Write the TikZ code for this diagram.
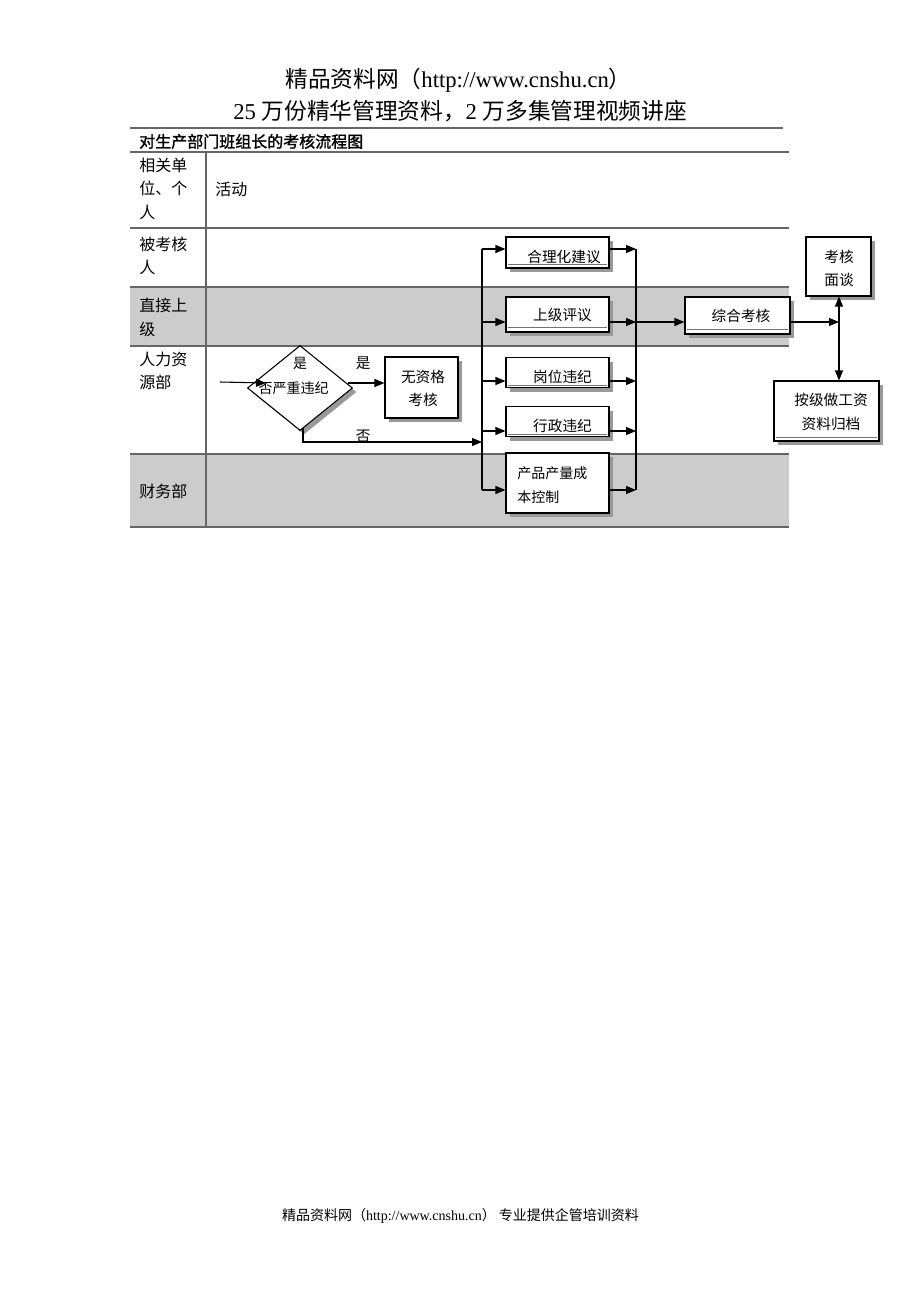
\documentclass[tikz,border=0pt]{standalone}
\usepackage{fontspec}
\setmainfont{Liberation Serif}
\newfontfamily\cjk{Noto Sans CJK SC}
\newfontfamily\cjkb[FakeBold=1.5]{Noto Sans CJK SC}
\usetikzlibrary{arrows.meta,shadows,shapes.geometric}
\definecolor{lanegray}{HTML}{CCCCCC}
\definecolor{rulegray}{HTML}{666666}
\begin{document}
\begin{tikzpicture}[x=0.75pt,y=-0.75pt,
  tline/.style={draw=rulegray,line width=1pt},
  lab/.style={anchor=west,inner sep=0pt,align=left,font=\cjk\fontsize{12}{17.6}\selectfont},
  sbox/.style={draw=black,line width=0.8pt,fill=white,inner sep=0pt,
     drop shadow={shadow xshift=3pt,shadow yshift=-3pt,fill=black!40,opacity=1}},
  txt/.style={inner sep=0pt,align=center,font=\cjk\fontsize{11}{17.5}\selectfont},
  arr/.style={draw=black,line width=0.8pt,-{Triangle[length=7.5pt,width=6pt]}},
  darr/.style={draw=black,line width=0.8pt,{Triangle[length=7.5pt,width=6pt]}-{Triangle[length=7.5pt,width=6pt]}},
  ln/.style={draw=black,line width=0.8pt},
  uline/.style={draw=black!55,line width=0.6pt}
]
\useasboundingbox (0,0) rectangle (920,1302);
\fill[white] (0,0) rectangle (920,1302);

% header
\node[inner sep=0pt,font=\fontsize{17}{20}\selectfont] (h1) at (458.5,80)
  {\cjk 精品资料网（\rmfamily http://www.cnshu.cn\cjk ）};
\node[inner sep=0pt,font=\fontsize{17}{20}\selectfont] (h2) at (460,111)
  {{\rmfamily 25 }\cjk 万份精华管理资料，{\rmfamily 2 }万多集管理视频讲座};
\draw[draw=rulegray,line width=1.5pt] (130,128) -- (783,128);
\node[anchor=west,inner sep=0pt,font=\cjkb\fontsize{12}{14}\selectfont] (title) at (139,141.5) {对生产部门班组长的考核流程图};

% lanes
\fill[lanegray] (130,287) rectangle (789,346);
\fill[lanegray] (130,454) rectangle (789,527);
\foreach \yy in {152,228,287,346,454,527} \draw[tline] (130,\yy) -- (789,\yy);
\draw[tline] (206,152) -- (206,527);

\node[lab] (r1) at (139,188.5) {相关单\\位、个\\人};
\node[lab] (act) at (215,189) {活动};
\node[lab] (r2) at (139,256) {被考核\\人};
\node[lab] (r3) at (139,317.5) {直接上\\级};
\node[lab] (r4) at (139,371) {人力资\\源部};
\node[lab] (r5) at (139,491) {财务部};

% decision
\node[sbox,diamond,minimum width=78.75pt,minimum height=63.75pt] (dm) at (300,388) {};
\node[txt,font=\cjk\fontsize{10.5}{14}\selectfont] (dq1) at (300,363.5) {是};
\node[txt,font=\cjk\fontsize{10.5}{14}\selectfont] (dq2) at (293.5,388.5) {否严重违纪};

\node[sbox,minimum width=54.75pt,minimum height=45.75pt] (wz) at (421.5,387.5) {};
\node[txt] (wzt) at (423,388.5) {无资格\\考核};

% five boxes
\node[sbox,minimum width=77.25pt,minimum height=23.25pt] (hl) at (557.5,252.5) {};
\node[sbox,minimum width=77.25pt,minimum height=26.25pt] (sj) at (557.5,314.5) {};
\node[sbox,minimum width=77.25pt,minimum height=22.5pt] (gw) at (557.5,372.7) {};
\node[sbox,minimum width=77.25pt,minimum height=22.5pt] (xz) at (557.5,421.7) {};
\node[sbox,minimum width=77.25pt,minimum height=45pt] (cp) at (557.5,483) {};
\node[txt] (hlt) at (564,256.5) {合理化建议};
\node[txt] (sjt) at (562.5,315) {上级评议};
\node[txt] (gwt) at (562.5,376.5) {岗位违纪};
\node[txt] (xzt) at (562.5,426) {行政违纪};
\node[txt,anchor=west,align=left,font=\cjk\fontsize{10.5}{18}\selectfont] (cpt) at (517,485) {产品产量成\\本控制};

\node[sbox,minimum width=78.75pt,minimum height=27.75pt] (zh) at (737.5,315.5) {};
\node[txt] (zht) at (741,315.5) {综合考核};

\node[sbox,minimum width=48.75pt,minimum height=44.25pt] (mt) at (838.5,266.5) {};
\node[txt,font=\cjk\fontsize{11}{17}\selectfont] (mtt) at (839,268.7) {考核\\面谈};

\node[sbox,minimum width=78.75pt,minimum height=45pt] (gd) at (826.5,411) {};
\node[txt,font=\cjk\fontsize{11}{18}\selectfont] (gdt) at (831,412) {按级做工资\\资料归档};

% underlines inside boxes
\draw[uline] ([xshift=2.25pt,yshift=3pt]hl.south west) -- ([xshift=-2.25pt,yshift=3pt]hl.south east);
\draw[uline] ([xshift=2.25pt,yshift=3.5pt]sj.south west) -- ([xshift=-2.25pt,yshift=3.5pt]sj.south east);
\draw[uline] ([xshift=2.25pt,yshift=2.5pt]gw.south west) -- ([xshift=-2.25pt,yshift=2.5pt]gw.south east);
\draw[uline] ([xshift=2.25pt,yshift=2.5pt]xz.south west) -- ([xshift=-2.25pt,yshift=2.5pt]xz.south east);
\draw[uline] ([xshift=2.25pt,yshift=3.5pt]zh.south west) -- ([xshift=-2.25pt,yshift=3.5pt]zh.south east);
\draw[uline] ([xshift=2.25pt,yshift=3pt]gd.south west) -- ([xshift=-2.25pt,yshift=3pt]gd.south east);

% connectors
\coordinate (in0) at (220,382);
\coordinate (in1) at (266,383);
\draw[arr] (in0) -- (in1);
\coordinate (y1) at (348,383);
\draw[arr] (y1) -- (y1 -| wz.west);
\node[txt] (yes) at (363.3,363.5) {是};

\coordinate (L1) at (482,249);
\coordinate (L2) at (482,322);
\coordinate (L3) at (482,381);
\coordinate (L4) at (482,431);
\coordinate (L5) at (482,490);
\coordinate (R1) at (636,249);
\coordinate (R2) at (636,322);
\coordinate (R3) at (636,381);
\coordinate (R4) at (636,431);
\coordinate (R5) at (636,490);

\coordinate (n0) at (303,428);
\coordinate (n1) at (303,442);
\draw[arr] (n0) -- (n1) -- (n1 -| L1);
\node[txt] (no) at (363.3,436.5) {否};

\draw[ln] (L1) -- (L5);
\draw[ln] (R1) -- (R5);
\draw[arr] (L1) -- (L1 -| hl.west);
\draw[arr] (L2) -- (L2 -| sj.west);
\draw[arr] (L3) -- (L3 -| gw.west);
\draw[arr] (L4) -- (L4 -| xz.west);
\draw[arr] (L5) -- (L5 -| cp.west);
\draw[arr] (R1 -| hl.east) -- (R1);
\draw[arr] (R2 -| sj.east) -- (R2);
\draw[arr] (R3 -| gw.east) -- (R3);
\draw[arr] (R4 -| xz.east) -- (R4);
\draw[arr] (R5 -| cp.east) -- (R5);
\draw[arr] (R2) -- (R2 -| zh.west);

\coordinate (J) at (839,322);
\draw[arr] (J -| zh.east) -- (J);
\draw[darr] (mt.south -| J) -- (gd.north -| J);

% footer
\node[inner sep=0pt,font=\fontsize{10.5}{13}\selectfont] (ft) at (460.5,1216)
  {\cjk 精品资料网（\rmfamily http://www.cnshu.cn\cjk ） 专业提供企管培训资料};
\end{tikzpicture}
\end{document}
